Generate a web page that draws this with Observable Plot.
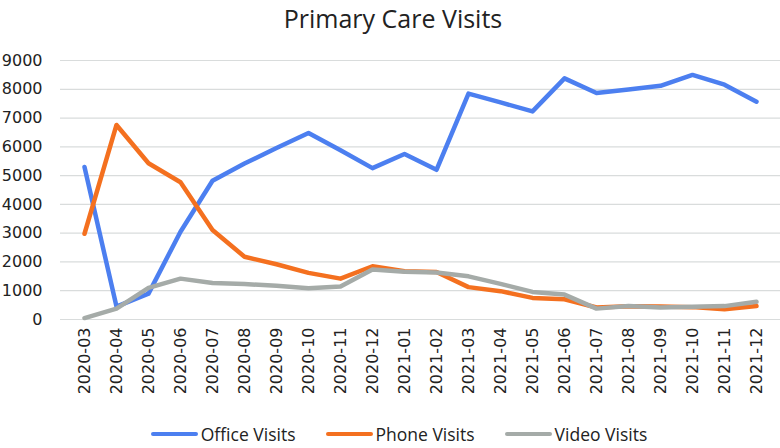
<!DOCTYPE html>
<html><head><meta charset="utf-8">
<script src="https://cdn.jsdelivr.net/npm/d3@7"></script>
<script src="https://cdn.jsdelivr.net/npm/@observablehq/plot@0.6"></script>
<style>
body{margin:0;background:#fff;width:780px;height:448px;overflow:hidden;font-family:"Open Sans",sans-serif;}
#title{height:40px;text-align:center;font-size:25px;line-height:36px;color:#222;margin-left:6px;}
#legend{display:flex;justify-content:center;gap:30px;font-size:17.5px;color:#222;margin-left:18px;margin-top:12px;}
#legend span.item{display:flex;align-items:center;}
#legend span.sw{display:inline-block;width:47px;height:4px;border-radius:2px;margin-right:3px;}
</style></head>
<body>
<div id="title">Primary Care Visits</div>
<div id="chart"></div>
<div id="legend"></div>
<script>
const months = ["2020-03","2020-04","2020-05","2020-06","2020-07","2020-08","2020-09","2020-10","2020-11","2020-12","2021-01","2021-02","2021-03","2021-04","2021-05","2021-06","2021-07","2021-08","2021-09","2021-10","2021-11","2021-12"];
const office = [5300,450,900,3050,4820,5420,5960,6480,5880,5260,5750,5200,7850,7545,7230,8380,7870,7990,8120,8500,8160,7570];
const phone  = [2980,6760,5430,4770,3110,2180,1920,1620,1420,1850,1680,1650,1125,985,750,705,417,460,450,430,358,470];
const video  = [50,380,1100,1420,1270,1230,1170,1090,1150,1740,1660,1630,1500,1240,958,865,378,470,417,440,465,615];
const seriesNames = ["Office Visits","Phone Visits","Video Visits"];
const colors = ["#4c7ff0","#f4701f","#a5aba8"];
const yTicks = [0,1000,2000,3000,4000,5000,6000,7000,8000,9000];

const seriesVals = [office, phone, video];
const data = [];
seriesNames.forEach((s,i)=>months.forEach((m,j)=>data.push({series:s, month:m, value:seriesVals[i][j]})));

const chart = Plot.plot({
  width:780, height:370,
  marginTop:20, marginBottom:91, marginLeft:60, marginRight:0,
  style:{fontFamily:"DejaVu Sans", fontSize:"16px", color:"#222", background:"#fff"},
  x:{type:"band", domain:months, padding:0, label:null, tickSize:0, tickRotate:-90, tickPadding:8},
  y:{domain:[0,9000], ticks:yTicks, tickFormat:d=>String(d), label:null, tickSize:0, tickPadding:18},
  color:{domain:seriesNames, range:colors},
  marks:[
    Plot.gridY(yTicks, {stroke:"#d9dcdc", strokeOpacity:1, strokeWidth:1.2}),
    Plot.lineY(data, {x:"month", y:"value", z:"series", stroke:"series", strokeWidth:4.5, strokeLinejoin:"round", strokeLinecap:"round"})
  ]
});
document.getElementById("chart").appendChild(chart);

const lg = document.getElementById("legend");
seriesNames.forEach((s,i)=>{
  const it = document.createElement("span"); it.className="item";
  const sw = document.createElement("span"); sw.className="sw"; sw.style.background=colors[i];
  it.appendChild(sw); it.appendChild(document.createTextNode(s));
  lg.appendChild(it);
});
</script>
</body></html>
